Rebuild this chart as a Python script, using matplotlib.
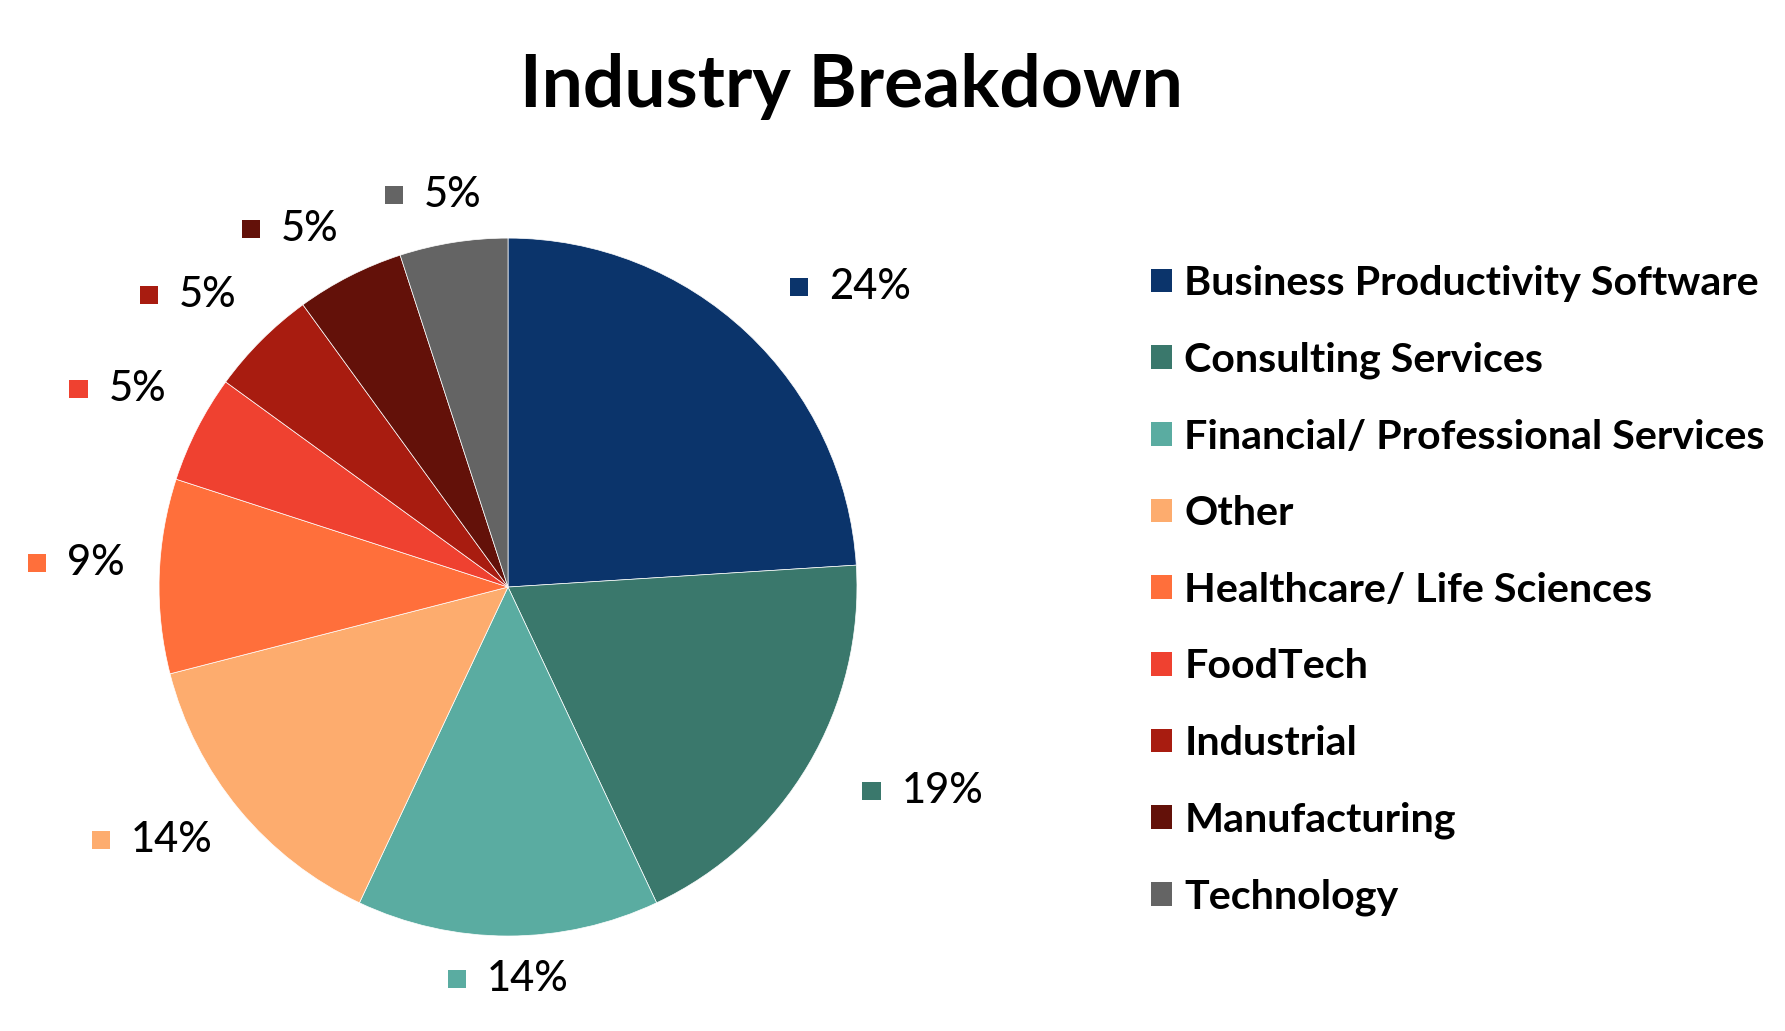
import numpy as np
import matplotlib
matplotlib.use("Agg")
import matplotlib.pyplot as plt
from matplotlib.patches import Rectangle
from matplotlib.offsetbox import AnnotationBbox, HPacker, DrawingArea, TextArea

categories = [
    "Business Productivity Software",
    "Consulting Services",
    "Financial/ Professional Services",
    "Other",
    "Healthcare/ Life Sciences",
    "FoodTech",
    "Industrial",
    "Manufacturing",
    "Technology",
]
shares = [24, 19, 14, 14, 9, 5, 5, 5, 5]
colors = ["#0b346b", "#3a786c", "#5aaca1", "#fdac6e", "#ff6f3b",
          "#ef4130", "#a81c10", "#631109", "#646464"]

FONT = "Lato"

fig = plt.figure(figsize=(17.85, 10.31), dpi=100)

# pie: centre ~ (508, 587) px, radius ~ 349 px
ax = fig.add_axes([0.0891, 0.0921, 0.391, 0.677])
wedges, _ = ax.pie(shares, colors=colors, startangle=90, counterclock=False,
                   wedgeprops=dict(edgecolor="white", linewidth=0.5))
ax.set_xlim(-1, 1)
ax.set_ylim(-1, 1)
ax.set_aspect("equal")

# outside-end labels: coloured square + percentage, box pushed off the rim
for w, val, col in zip(wedges, shares, colors):
    th = np.deg2rad((w.theta1 + w.theta2) / 2)
    c, s = np.cos(th), np.sin(th)
    bx = 0.5 - 0.5 * np.clip(2 * c, -1, 1)
    by = 0.5 - 0.5 * np.clip(2 * s, -1, 1)
    rx = 1.10 + (0.08 if c > 0.1 else 0.0)
    y = 1.10 * s + 0.03 - 0.05 * max(s, 0) ** 2
    da = DrawingArea(13, 13)
    da.add_artist(Rectangle((0, 0), 13, 13, facecolor=col, edgecolor="none"))
    txt = TextArea(f"{val}%", textprops=dict(fontsize=30, family=FONT,
                                             weight="medium", color="black"))
    box = HPacker(children=[da, txt], align="center", pad=0, sep=15)
    ab = AnnotationBbox(box, (rx * c, y), xycoords="data",
                        box_alignment=(bx, by), frameon=False,
                        annotation_clip=False, pad=0)
    ax.add_artist(ab)

handles = [Rectangle((0, 0), 1, 1, facecolor=col, edgecolor="none") for col in colors]
fig.legend(handles, categories, loc="upper left", bbox_to_anchor=(0.645, 0.743),
           frameon=False, prop=dict(family=FONT, size=29.7, weight="bold"),
           handlelength=0.5, handleheight=0.5, handletextpad=0.3,
           labelspacing=0.96, borderaxespad=0, borderpad=0)

fig.text(0.477, 1 - 107 / 1031, "Industry Breakdown", ha="center", va="baseline",
         fontsize=52.7, weight="bold", family=FONT)

fig.savefig("out.png", dpi=100)
